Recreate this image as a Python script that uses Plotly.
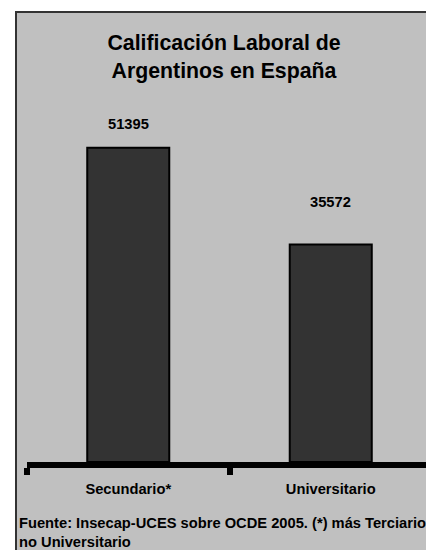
import plotly.graph_objects as go

categories = ["Secundario*", "Universitario"]
values = [51395, 35572]
label_shift = [24, 42]

title_text = "Calificación Laboral de<br>Argentinos en España"
footer_text = "Fuente: Insecap-UCES sobre OCDE 2005. (*) más Terciario<br>no Universitario"

W, H = 426, 542
ML, MR, MT, MB = 19, 2, 87, 88
pw = W - ML - MR
ph = H - MT - MB

def px_x(X):
    return (X - ML) / pw

def px_y(Y):
    return (H - MB - Y) / ph

FONT = "Arial, Liberation Sans, sans-serif"

fig = go.Figure()
fig.add_trace(go.Bar(
    x=categories, y=values,
    marker=dict(color="#333333", line=dict(color="#000000", width=2)),
    width=0.405,
    hoverinfo="skip",
))

for c, v, s in zip(categories, values, label_shift):
    fig.add_annotation(x=c, y=v, text=f"<b>{v}</b>", showarrow=False,
                       yanchor="middle", yshift=s,
                       font=dict(family=FONT, size=14.7, color="#000000"))

fig.add_annotation(xref="paper", yref="paper", x=px_x(9), y=px_y(505),
                   xanchor="left", yanchor="top", align="left",
                   text=f"<b>{footer_text}</b>", showarrow=False,
                   font=dict(family=FONT, size=14.7, color="#000000"))

fig.add_shape(type="rect", xref="paper", yref="paper", layer="below",
              x0=px_x(8), x1=px_x(460), y0=px_y(600), y1=px_y(4),
              fillcolor="#C0C0C0", line=dict(color="#333333", width=2))

fig.update_layout(
    width=W, height=H,
    margin=dict(l=ML, r=MR, t=MT, b=MB),
    paper_bgcolor="#FFFFFF",
    plot_bgcolor="rgba(0,0,0,0)",
    showlegend=False,
    title=dict(text=f"<b>{title_text}</b>", xref="container", yref="container",
               x=216 / W, xanchor="center", y=1 - 42 / H, yanchor="top",
               font=dict(family=FONT, size=21.3, color="#000000")),
    xaxis=dict(type="category", tickson="boundaries", showline=True,
               linecolor="#000000", linewidth=6, ticks="outside", ticklen=7,
               tickwidth=6, tickcolor="#000000", showgrid=False,
               range=[-0.5, 1.5], ticklabelstandoff=8,
               tickfont=dict(family=FONT, size=14.7, color="#000000"),
               tickprefix="<b>", ticksuffix="</b>"),
    yaxis=dict(visible=False, range=[0, 60000], showgrid=False),
)

fig.write_html("out.html")
